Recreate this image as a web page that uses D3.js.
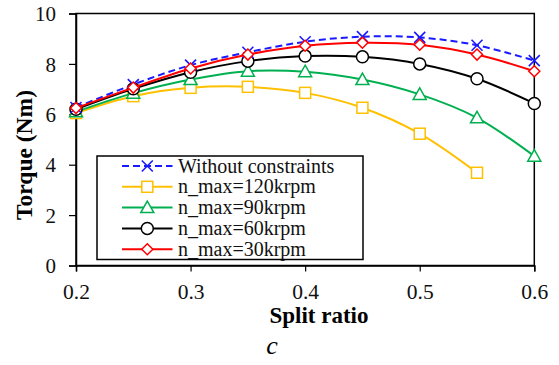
<!DOCTYPE html>
<html><head><meta charset="utf-8">
<script src="https://cdn.jsdelivr.net/npm/d3@7"></script>
<style>body{margin:0;background:#fff}svg{display:block}</style>
</head><body><svg id="c" width="559" height="365" font-family="Liberation Serif"></svg>
<script>
const splitRatio = [0.2, 0.25, 0.3, 0.35, 0.4, 0.45, 0.5, 0.55, 0.6];
const withoutConstraints = [6.27, 7.18, 7.95, 8.46, 8.88, 9.08, 9.05, 8.74, 8.13];
const nmax120 = [6.05, 6.72, 7.05, 7.09, 6.85, 6.26, 5.23, 3.68];
const nmax90 = [6.1, 6.84, 7.38, 7.71, 7.69, 7.38, 6.79, 5.86, 4.34];
const nmax60 = [6.2, 7.01, 7.67, 8.11, 8.31, 8.28, 8.0, 7.41, 6.43];
const nmax30 = [6.25, 7.06, 7.82, 8.37, 8.72, 8.84, 8.76, 8.37, 7.71];
const seriesNames = ["Without constraints", "n_max=120krpm", "n_max=90krpm", "n_max=60krpm", "n_max=30krpm"];
const xTicks = [0.2, 0.3, 0.4, 0.5, 0.6];
const yTicks = [0, 2, 4, 6, 8, 10];

const FONT = "'Liberation Serif', 'Times New Roman', serif";
const series = [
  {name: seriesNames[0], values: withoutConstraints, color: "#1a1aff", marker: "x", dash: "7,4"},
  {name: seriesNames[1], values: nmax120, color: "#ffc000", marker: "square"},
  {name: seriesNames[2], values: nmax90, color: "#00b050", marker: "triangle"},
  {name: seriesNames[3], values: nmax60, color: "#000000", marker: "circle"},
  {name: seriesNames[4], values: nmax30, color: "#ff0000", marker: "diamond"}
];
const drawOrder = [1, 2, 3, 0, 4];

const svg = d3.select("#c").style("font-family", FONT);
const L = 76, R = 534.3, T = 13.5, B = 265.5;
const x = d3.scaleLinear().domain([0.2, 0.6]).range([L, R]);
const y = d3.scaleLinear().domain([0, 10]).range([B, T]);

svg.append("rect").attr("x", L).attr("y", T).attr("width", R - L).attr("height", B - T)
  .attr("fill", "none").attr("stroke", "#000").attr("stroke-width", 1.5);

const xAxis = svg.append("g").attr("transform", `translate(0,${B})`)
  .call(d3.axisBottom(x).tickValues(xTicks).tickFormat(d3.format(".1f")).tickSize(6).tickPadding(6));
const yAxis = svg.append("g").attr("transform", `translate(${L},0)`)
  .call(d3.axisLeft(y).tickValues(yTicks).tickFormat(d3.format("d")).tickSize(7).tickPadding(13));
[xAxis, yAxis].forEach(g => {
  g.attr("font-family", null).style("font-family", FONT);
  g.select(".domain").attr("stroke", "#000").attr("stroke-width", 1.5);
  g.selectAll(".tick line").attr("stroke", "#000").attr("stroke-width", 1.2);
  g.selectAll("text").attr("fill", "#111").style("font-family", FONT);
});
xAxis.selectAll("text").attr("font-size", 21.5).attr("dy", "1.02em");
yAxis.selectAll("text").attr("font-size", 21).attr("dy", "0.34em");

function marker(g, type, cx, cy, color) {
  const s = 5.5;
  if (type === "x") {
    g.append("path").attr("d", `M${cx-s},${cy-s}L${cx+s},${cy+s}M${cx-s},${cy+s}L${cx+s},${cy-s}`)
      .attr("stroke", color).attr("stroke-width", 1.6).attr("fill", "none");
  } else if (type === "square") {
    g.append("rect").attr("x", cx - s).attr("y", cy - s).attr("width", 2*s).attr("height", 2*s)
      .attr("fill", "#fff").attr("stroke", color).attr("stroke-width", 1.5);
  } else if (type === "triangle") {
    g.append("path").attr("d", `M${cx},${cy-s-1}L${cx+s+1},${cy+s-0.5}L${cx-s-1},${cy+s-0.5}Z`)
      .attr("fill", "#fff").attr("stroke", color).attr("stroke-width", 1.5);
  } else if (type === "circle") {
    g.append("circle").attr("cx", cx).attr("cy", cy).attr("r", s + 0.5)
      .attr("fill", "#fff").attr("stroke", color).attr("stroke-width", 1.5);
  } else if (type === "diamond") {
    g.append("path").attr("d", `M${cx},${cy-s}L${cx+s},${cy}L${cx},${cy+s}L${cx-s},${cy}Z`)
      .attr("fill", "#fff").attr("stroke", color).attr("stroke-width", 1.5);
  }
}

const line = d3.line().x((d, i) => x(splitRatio[i])).y(d => y(d)).curve(d3.curveCatmullRom.alpha(0.5));
drawOrder.forEach(k => {
  const s = series[k];
  const g = svg.append("g");
  g.append("path").attr("d", line(s.values)).attr("fill", "none").attr("stroke", s.color)
    .attr("stroke-width", 2).attr("stroke-dasharray", s.dash || null);
  s.values.forEach((v, i) => marker(g, s.marker, x(splitRatio[i]), y(v), s.color));
});

const lg = svg.append("g");
lg.append("rect").attr("x", 97).attr("y", 156).attr("width", 266).attr("height", 103.5)
  .attr("fill", "#fff").attr("stroke", "#000").attr("stroke-width", 1.5);
series.forEach((s, i) => {
  const ly = 166 + i * 20.8;
  lg.append("line").attr("x1", 122).attr("x2", 172.5).attr("y1", ly).attr("y2", ly)
    .attr("stroke", s.color).attr("stroke-width", 2).attr("stroke-dasharray", s.dash || null);
  marker(lg, s.marker, 147.3, ly, s.color);
  lg.append("text").attr("x", 178).attr("y", ly).attr("dy", "0.33em").attr("font-size", 20)
    .style("font-family", FONT).attr("fill", "#111").text(s.name);
});

svg.append("text").attr("x", 319).attr("y", 323).attr("text-anchor", "middle").style("font-family", FONT)
  .attr("font-size", 23).attr("font-weight", "bold").text("Split ratio");
svg.append("text").attr("transform", "translate(31.5,155) rotate(-90)").attr("text-anchor", "middle")
  .style("font-family", FONT).attr("font-size", 23.5).attr("font-weight", "bold").text("Torque (Nm)");
svg.append("text").attr("x", 272).attr("y", 354).attr("text-anchor", "middle").style("font-family", FONT)
  .attr("font-size", 26).attr("font-style", "italic").text("c");
</script></body></html>
